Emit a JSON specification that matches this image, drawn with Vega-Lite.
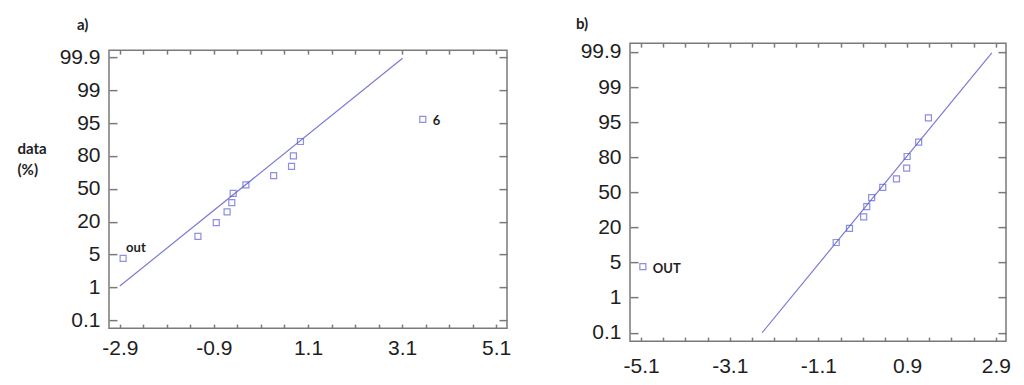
{
  "$schema": "https://vega.github.io/schema/vega-lite/v6.json",
  "background": "white",
  "padding": {"left": 16, "top": 16, "right": 5, "bottom": 5},
  "spacing": 63,
  "center": true,
  "config": {
    "view": {"stroke": "#7a7a7a", "strokeWidth": 1.5},
    "axis": {
      "domain": false, "grid": false, "labelFont": "Liberation Sans", "labelFontSize": 21,
      "labelColor": "#1e1e1e", "tickColor": "#7a7a7a", "tickWidth": 1.5,
      "labelFlush": false, "labelOverlap": false, "labelBound": false
    }
  },
  "datasets": {
    "a_pts": [
      {"x": -2.83, "y": 1.88, "label": "out"},
      {"x": -1.24, "y": 2.55, "label": ""},
      {"x": -0.85, "y": 2.97, "label": ""},
      {"x": -0.62, "y": 3.30, "label": ""},
      {"x": -0.52, "y": 3.58, "label": ""},
      {"x": -0.49, "y": 3.86, "label": ""},
      {"x": -0.22, "y": 4.12, "label": ""},
      {"x": 0.37, "y": 4.40, "label": ""},
      {"x": 0.75, "y": 4.68, "label": ""},
      {"x": 0.79, "y": 5.00, "label": ""},
      {"x": 0.94, "y": 5.44, "label": ""},
      {"x": 3.54, "y": 6.11, "label": "6"}
    ],
    "a_line": [
      {"x": -2.9, "y": 1.04},
      {"x": 3.11, "y": 7.97}
    ],
    "b_pts": [
      {"x": -5.06, "y": 1.88, "label": "OUT"},
      {"x": -0.70, "y": 2.57, "label": ""},
      {"x": -0.40, "y": 2.97, "label": ""},
      {"x": -0.08, "y": 3.30, "label": ""},
      {"x": -0.01, "y": 3.59, "label": ""},
      {"x": 0.10, "y": 3.85, "label": ""},
      {"x": 0.35, "y": 4.14, "label": ""},
      {"x": 0.66, "y": 4.38, "label": ""},
      {"x": 0.89, "y": 4.69, "label": ""},
      {"x": 0.90, "y": 5.02, "label": ""},
      {"x": 1.16, "y": 5.43, "label": ""},
      {"x": 1.38, "y": 6.12, "label": ""}
    ],
    "b_line": [
      {"x": -2.37, "y": 0.0},
      {"x": 2.81, "y": 7.97}
    ]
  },
  "hconcat": [
    {
      "width": 398,
      "height": 278,
      "title": {"text": "a)", "anchor": "start", "frame": "group", "dx": -32, "offset": 13, "font": "Lato", "fontSize": 15, "fontWeight": "bold", "color": "#1e1e1e"},
      "layer": [
        {
          "data": {"name": "a_line"},
          "mark": {"type": "line", "color": "#7b7bd4", "strokeWidth": 1.2},
          "encoding": {
            "x": {"field": "x", "type": "quantitative",
              "scale": {"domain": [-3.13, 5.33], "nice": false, "zero": false},
              "axis": {"orient": "bottom", "tickSize": -4, "labelPadding": 13,
                "values": [-2.9, -2.4, -1.9, -1.4, -0.9, -0.4, 0.1, 0.6, 1.1, 1.6, 2.1, 2.6, 3.1, 3.6, 4.1, 4.6, 5.1],
                "labelExpr": "abs((datum.value + 2.9) / 2 - round((datum.value + 2.9) / 2)) < 0.01 ? '' + datum.value : ''",
                "title": " ", "titleX": 200, "titleY": 41, "titleAlign": "center", "titleBaseline": "bottom", "titleFontSize": 10}},
            "y": {"field": "y", "type": "quantitative",
              "scale": {"domain": [-0.24, 8.22], "nice": false, "zero": false},
              "axis": {"orient": "left", "values": [0, 1, 2, 3, 4, 5, 6, 7, 8],
                "labelExpr": "['0.1','1','5','20','50','80','95','99','99.9'][datum.value]",
                "tickSize": -8, "labelPadding": 17,
                "title": ["data", "(%)"], "titleAngle": 0, "titleAlign": "left", "titleBaseline": "top",
                "titleX": -92, "titleY": 91, "titleFont": "Lato", "titleFontSize": 15, "titleFontWeight": "bold",
                "titleColor": "#1e1e1e", "titleLineHeight": 21}}
          }
        },
        {
          "data": {"name": "a_pts"},
          "mark": {"type": "point", "shape": "square", "filled": false, "size": 36, "color": "#5f5fd6", "strokeWidth": 1.2},
          "encoding": {
            "x": {"field": "x", "type": "quantitative",
              "axis": {"orient": "top", "title": null, "tickSize": -4, "labels": false,
                "values": [-2.9, -2.4, -1.9, -1.4, -0.9, -0.4, 0.1, 0.6, 1.1, 1.6, 2.1, 2.6, 3.1, 3.6, 4.1, 4.6, 5.1]}},
            "y": {"field": "y", "type": "quantitative",
              "axis": {"orient": "right", "title": null, "tickSize": -8, "labels": false, "values": [0, 1, 2, 3, 4, 5, 6, 7, 8]}}
          }
        },
        {
          "data": {"name": "a_pts"},
          "transform": [{"filter": "datum.label == 'out'"}],
          "mark": {"type": "text", "align": "left", "baseline": "alphabetic", "dx": 3, "dy": -6, "font": "Lato", "fontSize": 13, "fontWeight": "bold", "color": "#1e1e1e"},
          "encoding": {
            "x": {"field": "x", "type": "quantitative", "axis": null},
            "y": {"field": "y", "type": "quantitative", "axis": null},
            "text": {"field": "label"}
          }
        },
        {
          "data": {"name": "a_pts"},
          "transform": [{"filter": "datum.label == '6'"}],
          "mark": {"type": "text", "align": "left", "baseline": "alphabetic", "dx": 10, "dy": 6, "font": "Lato", "fontSize": 13, "fontWeight": "bold", "color": "#1e1e1e"},
          "encoding": {
            "x": {"field": "x", "type": "quantitative", "axis": null},
            "y": {"field": "y", "type": "quantitative", "axis": null},
            "text": {"field": "label"}
          }
        }
      ]
    },
    {
      "width": 376,
      "height": 298,
      "title": {"text": "b)", "anchor": "start", "frame": "group", "dx": -54, "offset": 8.5, "font": "Lato", "fontSize": 15, "fontWeight": "bold", "color": "#1e1e1e"},
      "layer": [
        {
          "data": {"name": "b_line"},
          "mark": {"type": "line", "color": "#7b7bd4", "strokeWidth": 1.2},
          "encoding": {
            "x": {"field": "x", "type": "quantitative",
              "scale": {"domain": [-5.35, 3.13], "nice": false, "zero": false},
              "axis": {"orient": "bottom", "title": null, "tickSize": -4, "labelPadding": 18,
                "values": [-5.1, -4.6, -4.1, -3.6, -3.1, -2.6, -2.1, -1.6, -1.1, -0.6, -0.1, 0.4, 0.9, 1.4, 1.9, 2.4, 2.9],
                "labelExpr": "abs((datum.value + 5.1) / 2 - round((datum.value + 5.1) / 2)) < 0.01 ? '' + datum.value : ''"}},
            "y": {"field": "y", "type": "quantitative",
              "scale": {"domain": [-0.24, 8.25], "nice": false, "zero": false},
              "axis": {"orient": "left", "values": [0, 1, 2, 3, 4, 5, 6, 7, 8],
                "labelExpr": "['0.1','1','5','20','50','80','95','99','99.9'][datum.value]",
                "tickSize": -8, "labelPadding": 17, "title": null}}
          }
        },
        {
          "data": {"name": "b_pts"},
          "mark": {"type": "point", "shape": "square", "filled": false, "size": 36, "color": "#5f5fd6", "strokeWidth": 1.2},
          "encoding": {
            "x": {"field": "x", "type": "quantitative",
              "axis": {"orient": "top", "title": null, "tickSize": -4, "labels": false,
                "values": [-5.1, -4.6, -4.1, -3.6, -3.1, -2.6, -2.1, -1.6, -1.1, -0.6, -0.1, 0.4, 0.9, 1.4, 1.9, 2.4, 2.9]}},
            "y": {"field": "y", "type": "quantitative",
              "axis": {"orient": "right", "title": null, "tickSize": -8, "labels": false, "values": [0, 1, 2, 3, 4, 5, 6, 7, 8]}}
          }
        },
        {
          "data": {"name": "b_pts"},
          "transform": [{"filter": "datum.label == 'OUT'"}],
          "mark": {"type": "text", "align": "left", "baseline": "alphabetic", "dx": 10, "dy": 6, "font": "Lato", "fontSize": 13, "fontWeight": "bold", "color": "#1e1e1e"},
          "encoding": {
            "x": {"field": "x", "type": "quantitative", "axis": null},
            "y": {"field": "y", "type": "quantitative", "axis": null},
            "text": {"field": "label"}
          }
        }
      ]
    }
  ]
}
